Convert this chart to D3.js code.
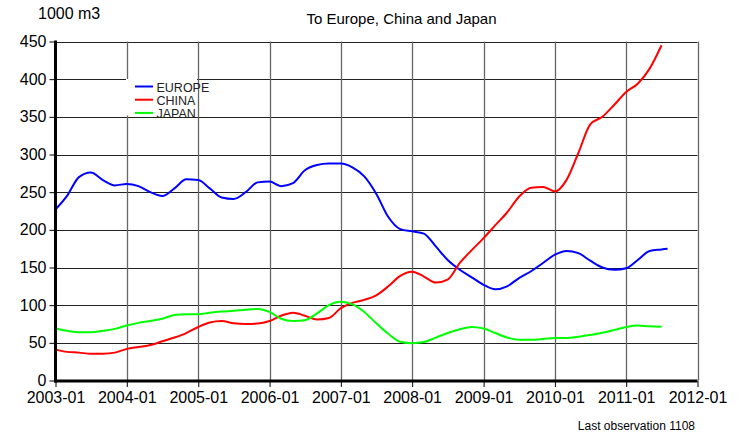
<!DOCTYPE html>
<html>
<head>
<meta charset="utf-8">
<script src="https://cdn.jsdelivr.net/npm/d3@7"></script>
<style>
  body { margin: 0; background: #fff; }
  text { font-family: Arial, "Liberation Sans", sans-serif; fill: #000; }
</style>
</head>
<body>
<div id="chart"></div>
<script>
// months read every 2 months, europe has one extra point (last obs 1108)
var months = ["2003-01","2003-03","2003-05","2003-07","2003-09","2003-11",
  "2004-01","2004-03","2004-05","2004-07","2004-09","2004-11",
  "2005-01","2005-03","2005-05","2005-07","2005-09","2005-11",
  "2006-01","2006-03","2006-05","2006-07","2006-09","2006-11",
  "2007-01","2007-03","2007-05","2007-07","2007-09","2007-11",
  "2008-01","2008-03","2008-05","2008-07","2008-09","2008-11",
  "2009-01","2009-03","2009-05","2009-07","2009-09","2009-11",
  "2010-01","2010-03","2010-05","2010-07","2010-09","2010-11",
  "2011-01","2011-03","2011-05","2011-07","2011-08"];

var europe = [227,245,270,276,266,259, 261,258,250,245,255,267,
  266,255,243,241,250,263, 264,258,262,279,286,288,
  288,283,271,248,217,201, 198,195,178,160,147,137,
  127,121,125,136,145,156, 167,172,169,159,150,147,
  149,160,172,174,175];
var china = [41,38,37,35.5,35.5,37, 42,44.5,47,52,57,63,
  71,77,79,76,75,75.5, 79,86,90,86,81,83,
  96,103,107,113,125,139, 144.5,138,130,134,156,173,
  189,206,223,244,256,257, 251,266,302,340,350,366,
  383,394,414,445];
var japan = [69,66,64,64,66,68.5, 73,76.5,79,82,87,88,
  88,90,91.5,92.5,94,95, 91,82,79,80,89,100,
  104.5,101,91,76,62,51.5, 49.5,51,57,63,68,71,
  69,63,57,54,54,55, 56.5,56.5,58,60.5,63.5,67,
  71,73,72,71.5];

var seriesNames = ["EUROPE", "CHINA", "JAPAN"];
var seriesColors = ["#0000ff", "#ff0000", "#00ff00"];
var seriesValues = [europe, china, japan];

var yTicks = [0,50,100,150,200,250,300,350,400,450];
var xTickYears = ["2003-01","2004-01","2005-01","2006-01","2007-01","2008-01","2009-01","2010-01","2011-01","2012-01"];

var W = 738, H = 435;
var plot = { left: 55.5, right: 697.5, top: 41.5, bottom: 380.5 };

var parse = d3.timeParse("%Y-%m");

var svg = d3.select("#chart").append("svg")
  .attr("width", W)
  .attr("height", H);

var x = d3.scaleTime()
  .domain([parse("2003-01"), parse("2012-01")])
  .range([plot.left, plot.right]);
var y = d3.scaleLinear()
  .domain([0, 450])
  .range([plot.bottom, plot.top]);

// grid
svg.append("g").selectAll("line")
  .data(yTicks.slice(1))
  .enter().append("line")
  .attr("x1", plot.left).attr("x2", plot.right)
  .attr("y1", function(d) { return Math.round(y(d)) + 0.5; })
  .attr("y2", function(d) { return Math.round(y(d)) + 0.5; })
  .style("stroke", "#222")
  .style("stroke-width", 1);

svg.append("g").selectAll("line")
  .data(xTickYears.slice(1))
  .enter().append("line")
  .attr("x1", function(d) { return Math.round(x(parse(d))) + 0.5; })
  .attr("x2", function(d) { return Math.round(x(parse(d))) + 0.5; })
  .attr("y1", plot.top).attr("y2", plot.bottom)
  .style("stroke", "#666")
  .style("stroke-width", 1.3);

// legend background hides grid
svg.append("rect")
  .attr("x", 126).attr("y", 79)
  .attr("width", 71).attr("height", 36.5)
  .style("fill", "#fff");

// lines
var line = d3.line()
  .x(function(d) { return x(d.date); })
  .y(function(d) { return y(d.value); })
  .curve(d3.curveMonotoneX);

seriesValues.forEach(function(vals, i) {
  var pts = vals.map(function(v, j) {
    return { date: parse(months[j]), value: v };
  });
  svg.append("path")
    .datum(pts)
    .attr("d", line)
    .style("fill", "none")
    .style("stroke", seriesColors[i])
    .style("stroke-width", 2);
});

// axes
var yAxis = svg.append("g")
  .attr("transform", "translate(" + plot.left + ",0)")
  .call(d3.axisLeft(y).tickValues(yTicks).tickSize(6).tickPadding(3).tickFormat(d3.format("d")));
var xAxis = svg.append("g")
  .attr("transform", "translate(0," + (plot.bottom + 0.5) + ")")
  .call(d3.axisBottom(x).tickValues(xTickYears.map(parse)).tickSize(6).tickPadding(5)
    .tickFormat(d3.timeFormat("%Y-%m")));

[yAxis, xAxis].forEach(function(a) {
  a.select(".domain").remove();
  a.selectAll(".tick line").style("stroke", "#000").style("stroke-width", 1);
  a.selectAll("text")
    .style("font-family", "Arial, 'Liberation Sans', sans-serif")
    .style("font-size", "16px")
    .style("fill", "#000");
});

// thick axis lines
svg.append("line")
  .attr("x1", plot.left).attr("x2", plot.left)
  .attr("y1", plot.top - 1).attr("y2", plot.bottom + 2)
  .style("stroke", "#000").style("stroke-width", 3);
svg.append("line")
  .attr("x1", plot.left - 1).attr("x2", plot.right)
  .attr("y1", plot.bottom + 0.5).attr("y2", plot.bottom + 0.5)
  .style("stroke", "#000").style("stroke-width", 3);

// legend
var legend = svg.append("g").attr("class", "legend");
seriesNames.forEach(function(name, i) {
  var ly = 86.5 + i * 13.2;
  legend.append("line")
    .attr("x1", 135).attr("x2", 153)
    .attr("y1", ly).attr("y2", ly)
    .style("stroke", seriesColors[i])
    .style("stroke-width", 2);
  legend.append("text")
    .attr("x", 156.5).attr("y", ly + 5)
    .style("font-size", "12.5px")
    .style("fill", "#222")
    .text(name);
});

// titles
svg.append("text")
  .attr("x", 38).attr("y", 19)
  .style("font-size", "16px")
  .text("1000 m3");
svg.append("text")
  .attr("x", 401.5).attr("y", 24)
  .attr("text-anchor", "middle")
  .style("font-size", "15px")
  .text("To Europe, China and Japan");
svg.append("text")
  .attr("x", 695).attr("y", 430)
  .attr("text-anchor", "end")
  .style("font-size", "12px")
  .text("Last observation 1108");
</script>
</body>
</html>
